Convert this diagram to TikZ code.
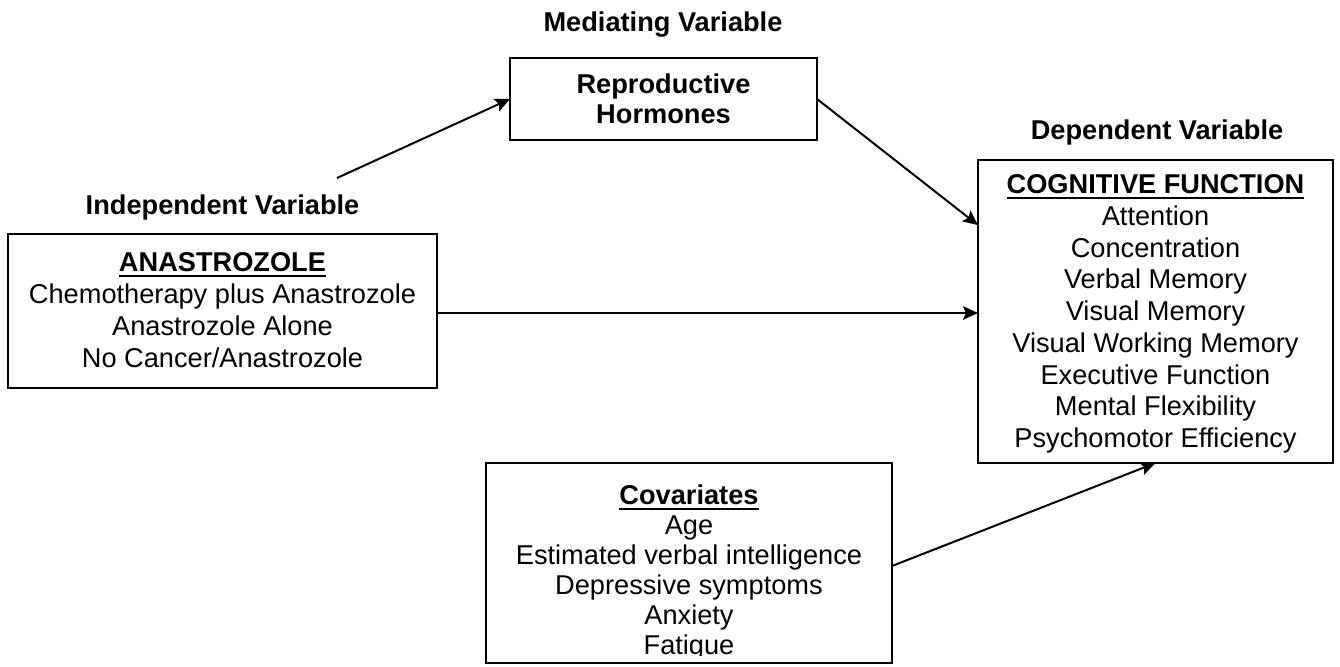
\documentclass[tikz,border=0pt]{standalone}
\usepackage{fontspec}
\setmainfont{Liberation Sans}
\usetikzlibrary{arrows.meta,calc}
\newcommand{\myul}[1]{\setbox0\hbox{#1}\rlap{\rule[-2.6pt]{\wd0}{0.9pt}}\box0}
\begin{document}
\begin{tikzpicture}[x=0.5pt,y=-0.5pt,
  every node/.style={inner sep=0pt,outer sep=0pt},
  box/.style={draw,line width=1pt,rectangle,align=center,font=\fontsize{13.6}{15.9}\selectfont},
  lbl/.style={anchor=base,font=\fontsize{13.6}{16}\selectfont\bfseries},
  conn/.style={line width=1pt,-{Stealth[length=7.5pt,width=6.8pt,inset=1.5pt]}}]
\useasboundingbox (0,0) rectangle (1340,667);

\node[lbl] (medlbl) at (663,32) {Mediating Variable};
\node[lbl] (indlbl) at (222.5,215) {Independent Variable};
\node[lbl] (deplbl) at (1157,140) {Dependent Variable};

\node[box,minimum width=153.5pt,minimum height=41pt,font=\fontsize{13.6}{15}\selectfont\bfseries] (horm) at (663.5,99) {Reproductive\\Hormones};

\node[box,minimum width=214.5pt,minimum height=77pt] (anast) at (222.5,311) {};
\node[align=center,font=\fontsize{13.6}{15.9}\selectfont] (anasttext) at (222.5,310)
  {\textbf{\myul{ANASTROZOLE}}\\Chemotherapy plus Anastrozole\\Anastrozole Alone\\No Cancer/Anastrozole};

\node[box,minimum width=177.5pt,minimum height=151.5pt] (cog) at (1155.5,311.5) {};
\node[align=center,font=\fontsize{13.6}{15.85}\selectfont] (cogtext) at (1155.5,314)
  {\textbf{\myul{COGNITIVE FUNCTION}}\\Attention\\Concentration\\Verbal Memory\\Visual Memory\\Visual Working Memory\\Executive Function\\Mental Flexibility\\Psychomotor Efficiency};

\node[box,minimum width=203pt,minimum height=100pt] (cov) at (689,563) {};
\begin{scope}
\clip (486,463) rectangle (892,656);
\node[anchor=north,align=center,font=\fontsize{13.6}{15}\selectfont] (covtext) at (689,485)
  {\textbf{\myul{Covariates}}\\Age\\Estimated verbal intelligence\\Depressive symptoms\\Anxiety\\Fatigue};
\end{scope}

\coordinate (in1) at (337,178);
\draw[conn] (in1) -- (horm.west);
\draw[conn] (horm.east) -- ($(cog.north west)!0.215!(cog.south west)$);
\draw[conn] (anast.east |- 0,313) -- (cog.west |- 0,313);
\draw[conn] ($(cov.north east)!0.515!(cov.south east)$) -- (cog.south);
\end{tikzpicture}
\end{document}
